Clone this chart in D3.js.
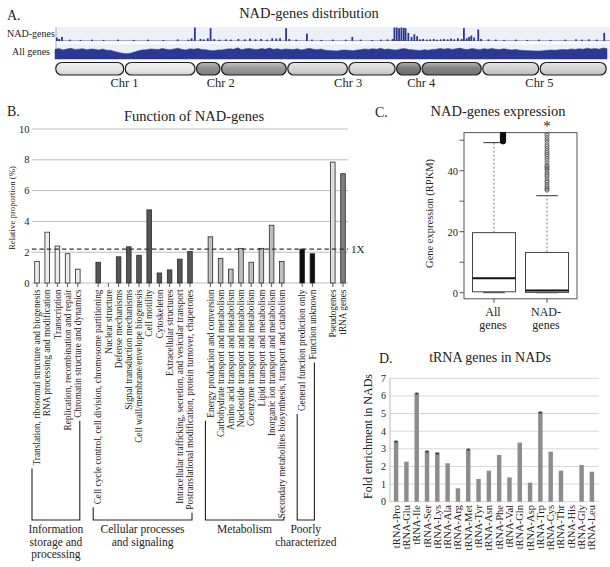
<!DOCTYPE html>
<html><head><meta charset="utf-8">
<script src="https://cdn.jsdelivr.net/npm/d3@7"></script>
<style>
body{margin:0;background:#fff}
svg text{font-family:"Liberation Serif","Times New Roman",Times,serif;fill:#222}
</style>
</head><body><svg id="c" width="610" height="567" font-family="Liberation Serif, serif"></svg>
<script>
// ---------------- DATA ----------------
// Panel A
const chromosomes = ["Chr 1","Chr 2","Chr 3","Chr 4","Chr 5"];
const chrLengthsMb = [30.4, 19.7, 23.5, 18.6, 27.0];
const chrCentromereMb = [15.0, 5.4, 13.2, 5.5, 12.4];
const chrArmColors = [["#e6e6e6","#e8e8e8"],["#878787","#939393"],["#d4d4d4","#d6d6d6"],["#737373","#7b7b7b"],["#cfcfcf","#d3d3d3"]];
const nadPosMb = [0.4,0.9,1.5,3.2,5.5,8.0,10.5,13.6,17.0,20.1,23.4,26.5,28.8,29.5,30.2,31.4,32.1,33.0,33.6,34.4,35.5,36.9,38.0,39.6,41.0,42.1,43.3,44.5,45.8,46.9,47.8,48.6,49.9,50.6,52.1,54.4,55.5,57.5,60.0,62.8,64.2,66.0,68.5,70.4,71.8,72.9,73.3,73.8,74.3,74.8,75.3,75.7,76.3,77.0,77.6,78.2,78.8,79.5,80.3,81.0,81.8,82.5,83.3,84.0,84.8,85.5,86.2,87.0,87.8,88.3,88.9,89.4,89.9,90.5,91.4,92.0,93.6,95.2,97.0,99.5,102.0,104.5,107.0,110.2,112.5,113.8,115.3,117.0,118.6];
const nadValues = [0.25,0.15,0.3,0.1,0.08,0.1,0.08,0.1,0.08,0.1,0.08,0.12,0.1,0.2,1.0,0.15,0.12,0.2,0.95,0.15,0.1,0.12,0.1,0.15,0.12,0.18,0.12,0.15,0.1,0.2,0.18,0.2,0.95,0.15,0.1,0.55,0.1,0.08,0.1,0.1,0.3,0.1,0.08,0.1,0.12,0.15,1.0,1.0,0.95,1.0,0.98,0.95,0.6,0.3,0.5,0.35,0.12,0.15,0.1,0.12,0.15,0.1,0.12,0.15,0.12,0.18,0.12,0.2,0.15,0.95,0.2,0.3,0.4,0.25,0.85,0.15,0.12,0.1,0.08,0.1,0.08,0.1,0.08,0.1,0.12,0.1,0.12,0.1,0.6];
const allGenesDensity = [78,84,73,80,86,77,79,83,74,81, 78,72,80,71,70,61,53,46,43,47, 56,66,73,74,81,79,76,85,78,75,
 81,87,77,73,82,78,85,76,75,69, 67,72,73,79,83,78,90,75,82,85, 78,76,84,79,88,77,83,74,81,78,
 76,82,73,79,86,79,75,80,71,69, 67,65,71,72,70,66,72,75,81,77, 83,78,86,76,81,75,73,80,84,76,
 74,71,69,75,71,77,78,85,79,85, 77,82,88,78,76,84,79,75,83,78, 85,79,76,82,77,73,77,71,69,67,
 66,65,64,67,71,72,70,75,76,74, 81,77,83,78,87,80,85,79,88,84];

// Panel B
const funcCategories = [
 "Translation, ribosomal structure and biogenesis","RNA processing and modification","Transcription",
 "Replication, recombination and repair","Chromatin structure and dynamics",
 "Cell cycle control, cell division, chromosome partitioning","Nuclear structure","Defense mechanisms",
 "Signal transduction mechanisms","Cell wall/membrane/envelope biogenesis","Cell motility","Cytoskeleton",
 "Extracellular structures","Intracellular trafficking, secretion, and vesicular transport",
 "Postranslational modification, protein turnover, chaperones",
 "Energy production and conversion","Carbohydrate transport and metabolism","Amino acid transport and metabolism",
 "Nucleotide transport and metabolism","Coenzyme transport and metabolism","Lipid transport and metabolism",
 "Inorganic ion transport and metabolism","Secondary metabolites biosynthesis, transport and catabolism",
 "General function prediction only","Function unknown","Pseudogenes","tRNA genes"];
const funcGroupOf = ["info","info","info","info","info",
 "cell","cell","cell","cell","cell","cell","cell","cell","cell","cell",
 "metab","metab","metab","metab","metab","metab","metab","metab",
 "poor","poor","pseudo","trna"];
const funcValues = [1.4,3.3,2.4,1.9,0.9, 1.35,0,1.7,2.35,1.8,4.75,0.65,0.85,1.55,2.05, 3.0,1.6,0.9,2.25,1.35,2.25,3.75,1.4, 2.2,1.9, 7.85,7.1];
const groupKeys = ["info","cell","metab","poor","pseudo","trna"];
const groupColors = {info:"#ececec",cell:"#555555",metab:"#bfbfbf",poor:"#0d0d0d",pseudo:"#e0e0e0",trna:"#7d7d7d"};
const groupLabels = {info:["Information","storage and","processing"],cell:["Cellular processes","and signaling"],metab:["Metabolism"],poor:["Poorly","characterized"]};
const funcTicks = [0,2,4,6,8,10];
const oneXLevel = 2.2;

// Panel C
const boxLabels = [["All","genes"],["NAD-","genes"]];
const boxQ1 = [0.3, 0.1];
const boxMedian = [4.7, 0.7];
const boxQ3 = [19.7, 13.2];
const boxWhiskLow = [0, 0];
const boxWhiskHigh = [49.2, 31.8];
const outliersAll = [49.6,49.75,49.9,50.1,50.2,50.35,50.5,50.7,50.8,51.0,51.15,51.3,51.5,51.6,51.8,52.0,52.1,52.3,52.5];
const outliersNad = [33.6,34.0,34.3,34.9,35.5,36.2,36.6,37.3,38.1,38.6,39.2,39.9,40.5,40.9,41.3,41.8,42.6,43.4,44.1,44.8,45.3,45.9,46.5,47.2,47.9,48.5,49.3,50.1,50.8,51.6,52.2];
const exprTicks = [0,10,20,30,40,50];
const exprLabeled = [0,20,40];

// Panel D
const trnaNames = ["tRNA-Pro","tRNA-Glu","tRNA-Ile","tRNA-Ser","tRNA-Lys","tRNA-Ala","tRNA-Arg","tRNA-Met","tRNA-Tyr","tRNA-Asn","tRNA-Phe","tRNA-Val","tRNA-Gln","tRNA-Asp","tRNA-Trp","tRNA-Cys","tRNA-Thr","tRNA-His","tRNA-Gly","tRNA-Leu"];
const trnaFold = [3.44,2.27,6.15,2.88,2.78,2.18,0.76,2.97,1.29,1.76,2.65,1.38,3.35,1.08,5.1,2.84,1.76,0,2.08,1.7];
const trnaSignif = ["tRNA-Pro","tRNA-Ile","tRNA-Ser","tRNA-Lys","tRNA-Met","tRNA-Trp"];
const trnaTicks = [0,1,2,3,4,5,6,7];

// ---------------- DRAW ----------------
const svg = d3.select("#c");
const defs = svg.append("defs");
const grad = defs.append("linearGradient").attr("id","shade").attr("x1",0).attr("x2",0).attr("y1",0).attr("y2",1);
grad.append("stop").attr("offset","0%").attr("stop-color","#fff").attr("stop-opacity",0.45);
grad.append("stop").attr("offset","45%").attr("stop-color","#fff").attr("stop-opacity",0.05);
grad.append("stop").attr("offset","100%").attr("stop-color","#000").attr("stop-opacity",0.12);

// ===== Panel A =====
svg.append("text").attr("x",7).attr("y",20).attr("font-size",14).text("A.");
svg.append("text").attr("x",309).attr("y",18).attr("text-anchor","middle").attr("font-size",14.5).text("NAD-genes distribution");

const genomeLen = d3.sum(chrLengthsMb);
const chrStart = chrLengthsMb.map((d,i)=>d3.sum(chrLengthsMb.slice(0,i)));
const gx = d3.scaleLinear().domain([0, genomeLen]).range([55, 607]);
const nadY = d3.scaleLinear().domain([0,1]).range([41,27.5]);
const allY = d3.scaleLinear().domain([0,100]).range([59,46.5]);

svg.append("rect").attr("x",gx(0)+1).attr("y",27).attr("width",610-gx(0)).attr("height",14).attr("fill","#eef0f8");
svg.append("rect").attr("x",gx(0)+1).attr("y",44).attr("width",610-gx(0)).attr("height",15).attr("fill","#eef0f8");
svg.append("line").attr("x1",gx(0)+1).attr("x2",gx(0)+1).attr("y1",27).attr("y2",59).attr("stroke","#999").attr("stroke-width",0.8);
svg.append("line").attr("x1",gx(0)+1).attr("x2",610).attr("y1",40.6).attr("y2",40.6).attr("stroke","#8a91c4").attr("stroke-width",0.8);

svg.append("text").attr("x",31).attr("y",37).attr("text-anchor","middle").attr("font-size",10).text("NAD-genes");
svg.append("text").attr("x",31).attr("y",55).attr("text-anchor","middle").attr("font-size",10).text("All genes");

svg.append("g").selectAll("rect").data(nadPosMb).join("rect")
  .attr("x",(d)=>gx(d)-0.9).attr("width",1.8)
  .attr("y",(d,i)=>nadY(nadValues[i])).attr("height",(d,i)=>nadY(0)-nadY(nadValues[i]))
  .attr("fill","#2a3593");

const allArea = d3.area()
  .x((d,i)=>gx(i*genomeLen/(allGenesDensity.length-1)))
  .y0(allY(0)).y1(d=>allY(d));
svg.append("path").datum(allGenesDensity).attr("d",allArea).attr("fill","#2b3894").attr("stroke","#2b3894").attr("stroke-width",0.5);

// chromosomes
chromosomes.forEach((name,i)=>{
  const s = chrStart[i], c = s+chrCentromereMb[i], e = s+chrLengthsMb[i];
  [[s,c],[c,e]].forEach((arm,j)=>{
    const x0 = gx(arm[0])+0.8, w = gx(arm[1])-gx(arm[0])-1.6;
    svg.append("rect").attr("x",x0).attr("y",62.5).attr("width",w)
      .attr("height",12.5).attr("rx",6).attr("ry",6).attr("fill",chrArmColors[i][j]);
    svg.append("rect").attr("x",x0).attr("y",62.5).attr("width",w)
      .attr("height",12.5).attr("rx",6).attr("ry",6)
      .attr("fill","url(#shade)").attr("stroke","#1e1e1e").attr("stroke-width",1.2);
  });
  svg.append("text").attr("x",gx(c)).attr("y",87).attr("text-anchor","middle").attr("font-size",12.5).text(name);
});

// ===== Panel B =====
svg.append("text").attr("x",7).attr("y",116).attr("font-size",14).text("B.");
svg.append("text").attr("x",194).attr("y",121).attr("text-anchor","middle").attr("font-size",14.5).text("Function of NAD-genes");

const slots = [];
groupKeys.forEach((g,gi)=>{
  funcCategories.forEach((c,i)=>{ if(funcGroupOf[i]===g) slots.push(c); });
  if(gi<groupKeys.length-1 && g!=="pseudo") slots.push("__gap"+gi);
});
const bx = d3.scaleBand().domain(slots).range([31.9, 31.9+slots.length*10.2]).paddingInner(0.55).paddingOuter(0.275);
const by = d3.scaleLinear().domain([0,10]).range([283,129]);

svg.append("g").selectAll("line").data(funcTicks).join("line")
  .attr("x1",bx.range()[0]).attr("x2",bx.range()[1]).attr("y1",d=>by(d)).attr("y2",d=>by(d))
  .attr("stroke","#bdbdbd").attr("stroke-width",1);
svg.append("g").selectAll("text").data(funcTicks).join("text")
  .attr("x",29.5).attr("y",d=>by(d)+3.5).attr("text-anchor","end").attr("font-size",10.5).attr("fill","#444").text(d=>d);
svg.append("text").attr("transform",`translate(14.5,${by(5)+2}) rotate(-90)`).attr("text-anchor","middle").attr("font-size",8.8).text("Relative proportion (%)");

svg.append("g").selectAll("rect").data(funcCategories).join("rect")
  .attr("x",d=>bx(d)).attr("width",bx.bandwidth())
  .attr("y",(d,i)=>by(funcValues[i])).attr("height",(d,i)=>by(0)-by(funcValues[i]))
  .attr("fill",(d,i)=>groupColors[funcGroupOf[i]]).attr("stroke",(d,i)=>funcValues[i]>0?"#2a2a2a":"none").attr("stroke-width",0.8);

svg.append("line").attr("x1",bx.range()[0]).attr("x2",bx.range()[1]).attr("y1",by(oneXLevel)).attr("y2",by(oneXLevel))
  .attr("stroke","#333").attr("stroke-width",1.3).attr("stroke-dasharray","4.5,3");
svg.append("text").attr("x",351).attr("y",by(oneXLevel)+4).attr("font-size",11).text("1X");

svg.append("g").selectAll("line").data(funcCategories).join("line")
  .attr("x1",d=>bx(d)+bx.bandwidth()/2).attr("x2",d=>bx(d)+bx.bandwidth()/2).attr("y1",283).attr("y2",287)
  .attr("stroke","#555").attr("stroke-width",1);

const labelTop = 289.5;
const labLen = {};
svg.append("g").selectAll("text").data(funcCategories).join("text")
  .attr("transform",d=>`translate(${bx(d)+bx.bandwidth()/2+3.2},${labelTop}) rotate(-90)`)
  .attr("text-anchor","end").attr("font-size",9.3).text(d=>d)
  .each(function(d){ labLen[d]=this.getComputedTextLength(); });

const bracketY = 520;
["info","cell","metab","poor"].forEach(g=>{
  const cats = funcCategories.filter((c,i)=>funcGroupOf[i]===g);
  const first = cats[0], last = cats[cats.length-1];
  const xl = bx(first)+bx.bandwidth()/2-5, xr = bx(last)+bx.bandwidth()/2+2;
  const yl = labelTop+labLen[first]+3, yr = labelTop+labLen[last]+3;
  svg.append("path").attr("d",`M${xl},${Math.min(yl,bracketY-3)}V${bracketY}H${xr}V${Math.min(yr,bracketY-3)}`)
    .attr("fill","none").attr("stroke","#222").attr("stroke-width",1.1);
  const mid = (xl+xr)/2;
  groupLabels[g].forEach((t,k)=>{
    svg.append("text").attr("x",mid).attr("y",533+k*12.5).attr("text-anchor","middle").attr("font-size",11.5).text(t);
  });
});

// ===== Panel C =====
svg.append("text").attr("x",375).attr("y",117).attr("font-size",14).text("C.");
svg.append("text").attr("x",498).attr("y",116).attr("text-anchor","middle").attr("font-size",14.5).text("NAD-genes expression");

const cy = d3.scaleLinear().domain([-2,52.5]).range([298.8,132.6]);
const cx = d3.scalePoint().domain(boxLabels.map(d=>d.join(" "))).range([494,547]);
const bw = 43;
const outlierShift = [9, 0];
defs.append("clipPath").attr("id","cclip").append("rect").attr("x",464).attr("y",cy(52.5)).attr("width",113).attr("height",cy(-2)-cy(52.5));
svg.append("rect").attr("x",464).attr("y",cy(52.5)).attr("width",113).attr("height",cy(-2)-cy(52.5)).attr("fill","none").attr("stroke","#555").attr("stroke-width",1);
svg.append("g").selectAll("line").data(exprTicks).join("line").attr("x1",459.5).attr("x2",464).attr("y1",d=>cy(d)).attr("y2",d=>cy(d)).attr("stroke","#555");
svg.append("g").selectAll("text").data(exprLabeled).join("text").attr("x",458).attr("y",d=>cy(d)+3.8).attr("text-anchor","end").attr("font-size",10.5).attr("fill","#444").text(d=>d);
svg.append("text").attr("transform",`translate(433,${cy(26)}) rotate(-90)`).attr("text-anchor","middle").attr("font-size",10.5).text("Gene expression (RPKM)");

const cg = svg.append("g").attr("clip-path","url(#cclip)");
boxLabels.forEach((lab,i)=>{
  const key = lab.join(" "), x = cx(key);
  cg.append("line").attr("x1",x).attr("x2",x).attr("y1",cy(boxQ3[i])).attr("y2",cy(boxWhiskHigh[i])).attr("stroke","#777").attr("stroke-dasharray","2,2");
  cg.append("line").attr("x1",x-bw/4).attr("x2",x+bw/4).attr("y1",cy(boxWhiskHigh[i])).attr("y2",cy(boxWhiskHigh[i])).attr("stroke","#333");
  cg.append("line").attr("x1",x-bw/4).attr("x2",x+bw/4).attr("y1",cy(boxWhiskLow[i])).attr("y2",cy(boxWhiskLow[i])).attr("stroke","#333");
  cg.append("rect").attr("x",x-bw/2).attr("y",cy(boxQ3[i])).attr("width",bw).attr("height",cy(boxQ1[i])-cy(boxQ3[i])).attr("fill","#fff").attr("stroke","#444");
  cg.append("line").attr("x1",x-bw/2).attr("x2",x+bw/2).attr("y1",cy(boxMedian[i])).attr("y2",cy(boxMedian[i])).attr("stroke","#111").attr("stroke-width",2);
  const outs = i===0?outliersAll:outliersNad;
  cg.append("g").selectAll("circle").data(outs).join("circle").attr("cx",x+outlierShift[i]).attr("cy",d=>cy(d)).attr("r",i===0?2.6:2)
    .attr("fill",i===0?"#111":"none").attr("stroke",i===0?"#111":"#555").attr("stroke-width",0.8);
  svg.append("line").attr("x1",x).attr("x2",x).attr("y1",cy(-2)).attr("y2",cy(-2)+4).attr("stroke","#555");
  lab.forEach((t,k)=>svg.append("text").attr("x",x-1).attr("y",316+k*13).attr("text-anchor","middle").attr("font-size",12).text(t));
});
svg.append("text").attr("x",cx("NAD- genes")).attr("y",cy(52.5)-2).attr("text-anchor","middle").attr("font-size",15).text("*");

// ===== Panel D =====
svg.append("text").attr("x",379).attr("y",363).attr("font-size",14).text("D.");
svg.append("text").attr("x",490).attr("y",362).attr("text-anchor","middle").attr("font-size",14).text("tRNA genes in NADs");

const dx = d3.scaleBand().domain(trnaNames).range([391,597]).paddingInner(0.57).paddingOuter(0.28);
const dy = d3.scaleLinear().domain([0,7]).range([501.7,378.3]);
svg.append("g").selectAll("line").data(trnaTicks).join("line").attr("x1",390).attr("x2",599).attr("y1",d=>dy(d)).attr("y2",d=>dy(d)).attr("stroke","#d6d6d6");
svg.append("line").attr("x1",390).attr("x2",390).attr("y1",dy(7)).attr("y2",dy(0)).attr("stroke","#bbb");
svg.append("g").selectAll("text").data(trnaTicks).join("text").attr("x",386).attr("y",d=>dy(d)+3.5).attr("text-anchor","end").attr("font-size",10).attr("fill","#444").text(d=>d);
svg.append("text").attr("transform",`translate(372,${dy(3.7)}) rotate(-90)`).attr("text-anchor","middle").attr("font-size",12).text("Fold enrichment in NADs");

svg.append("g").selectAll("rect").data(trnaNames).join("rect")
  .attr("x",d=>dx(d)).attr("width",dx.bandwidth())
  .attr("y",(d,i)=>dy(trnaFold[i])).attr("height",(d,i)=>dy(0)-dy(trnaFold[i])).attr("fill","#8c8c8c");
svg.append("g").selectAll("text").data(trnaNames.filter(n=>trnaSignif.includes(n))).join("text")
  .attr("x",d=>dx(d)+dx.bandwidth()/2).attr("y",d=>dy(trnaFold[trnaNames.indexOf(d)])+5)
  .attr("text-anchor","middle").attr("font-size",9).attr("fill","#555").text("*");
svg.append("g").selectAll("text.xl").data(trnaNames).join("text")
  .attr("transform",d=>`translate(${dx(d)+dx.bandwidth()/2+3.5},505) rotate(-90)`)
  .attr("text-anchor","end").attr("font-size",10.5).text(d=>d);
</script>
</body></html>
